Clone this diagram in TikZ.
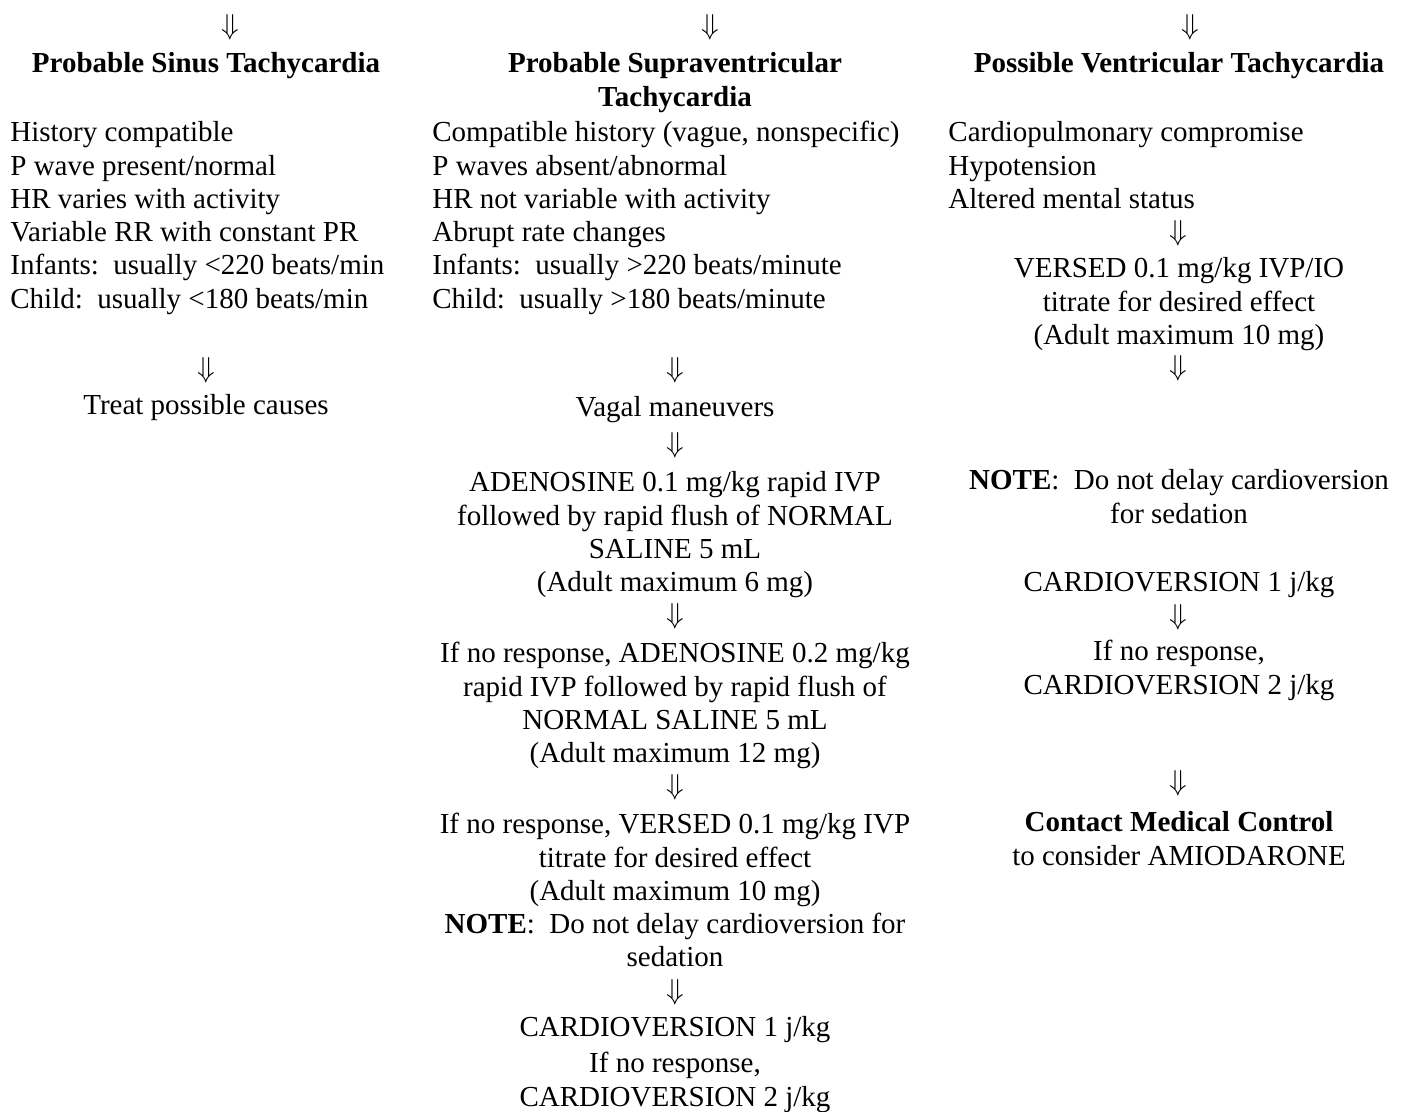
\documentclass[tikz,border=0pt]{standalone}
\usepackage{fontspec}
\setmainfont{Liberation Serif}

\begin{document}
\begin{tikzpicture}[x=0.5pt,y=-0.5pt,font=\fontsize{14.5}{16.65}\selectfont,
  blk/.style={inner sep=0pt,anchor=north,align=center},
  lst/.style={inner sep=0pt,anchor=north west,align=left},
  dn/.style={inner sep=0pt}]
\useasboundingbox (0,0) rectangle (1409,1112);
% left: sinus
\node[dn] (dL0) at (230,27) {$\Downarrow$};
\node[blk] (sinus) at (206,49) {\strut\textbf{Probable Sinus Tachycardia}};
\node[lst] (sinusL) at (10,118) {\strut History compatible\\P wave present/normal\\HR varies with activity\\Variable RR with constant PR\\Infants:\ \ usually <220 beats/min\\Child:\ \ usually <180 beats/min};
\node[dn] (dL1) at (206,370) {$\Downarrow$};
\node[blk] (treat) at (206,391) {\strut Treat possible causes};
% middle: svt
\node[dn] (dM0) at (710,27) {$\Downarrow$};
\node[blk] (svt) at (675,49) {\strut\textbf{Probable Supraventricular}\\\textbf{Tachycardia}};
\node[lst] (svtL) at (432,118) {\strut Compatible history (vague, nonspecific)\\P waves absent/abnormal\\HR not variable with activity\\Abrupt rate changes\\Infants:\ \ usually >220 beats/minute\\Child:\ \ usually >180 beats/minute};
\node[dn] (dM1) at (675,370) {$\Downarrow$};
\node[blk] (vagal) at (675,393) {\strut Vagal maneuvers};
\node[dn] (dM2) at (675,445) {$\Downarrow$};
\node[blk] (aden1) at (675,468) {\strut ADENOSINE 0.1 mg/kg rapid IVP\\followed by rapid flush of NORMAL\\SALINE 5 mL\\(Adult maximum 6 mg)};
\node[dn] (dM3) at (675,616) {$\Downarrow$};
\node[blk] (aden2) at (675,639) {\strut If no response, ADENOSINE 0.2 mg/kg\\rapid IVP followed by rapid flush of\\NORMAL SALINE 5 mL\\(Adult maximum 12 mg)};
\node[dn] (dM4) at (675,787) {$\Downarrow$};
\node[blk] (versedM) at (675,810) {\strut If no response, VERSED 0.1 mg/kg IVP\\titrate for desired effect\\(Adult maximum 10 mg)\\\textbf{NOTE}:\ \ Do not delay cardioversion for\\sedation};
\node[dn] (dM5) at (675,992) {$\Downarrow$};
\node[blk] (cardM1) at (675,1013) {\strut CARDIOVERSION 1 j/kg};
\node[blk] (cardM2) at (675,1049) {\strut If no response,\\CARDIOVERSION 2 j/kg};
% right: vt
\node[dn] (dR0) at (1190,27) {$\Downarrow$};
\node[blk] (vt) at (1179,49) {\strut\textbf{Possible Ventricular Tachycardia}};
\node[lst] (vtL) at (948,118) {\strut Cardiopulmonary compromise\\Hypotension\\Altered mental status};
\node[dn] (dR1) at (1178,233) {$\Downarrow$};
\node[blk] (versedR) at (1179,254) {\strut VERSED 0.1 mg/kg IVP/IO\\titrate for desired effect\\(Adult maximum 10 mg)};
\node[dn] (dR2) at (1178,368) {$\Downarrow$};
\node[blk] (noteR) at (1179,466) {\strut\textbf{NOTE}:\ \ Do not delay cardioversion\\for sedation};
\node[blk] (cardR1) at (1179,568) {\strut CARDIOVERSION 1 j/kg};
\node[dn] (dR3) at (1178,617) {$\Downarrow$};
\node[blk] (cardR2) at (1179,637) {\strut If no response,\\CARDIOVERSION 2 j/kg};
\node[dn] (dR4) at (1178,783) {$\Downarrow$};
\node[blk] (contact) at (1179,808) {\strut\textbf{Contact Medical Control}\\to consider AMIODARONE};
\end{tikzpicture}
\end{document}
